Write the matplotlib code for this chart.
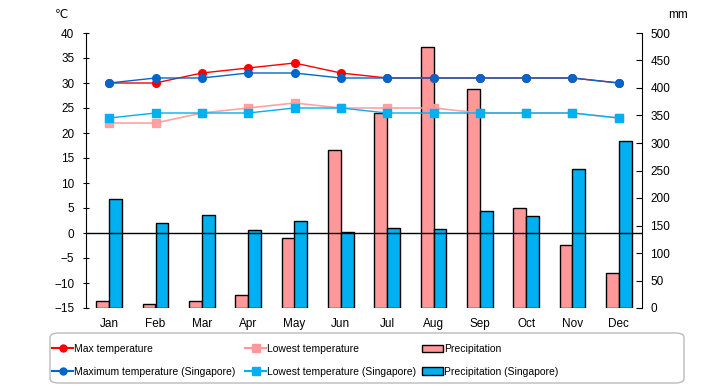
import matplotlib
matplotlib.use("Agg")
import matplotlib.pyplot as plt
from matplotlib import font_manager
from matplotlib.patches import FancyBboxPatch, Patch
from matplotlib.lines import Line2D

available = {f.name for f in font_manager.fontManager.ttflist}
narrow = None
for cand in ["Liberation Sans Narrow", "DejaVu Sans Condensed"]:
    if cand in available:
        narrow = cand
        break

plt.rcParams['font.family'] = ['Liberation Sans', 'DejaVu Sans']

months = ["Jan", "Feb", "Mar", "Apr", "May", "Jun", "Jul", "Aug", "Sep", "Oct", "Nov", "Dec"]
max_temp = [30, 30, 32, 33, 34, 32, 31, 31, 31, 31, 31, 30]
low_temp = [22, 22, 24, 25, 26, 25, 25, 25, 24, 24, 24, 23]
precip = [13, 7, 13, 23, 128, 287, 354, 474, 399, 181, 114, 63]
max_temp_sg = [30, 31, 31, 32, 32, 31, 31, 31, 31, 31, 31, 30]
low_temp_sg = [23, 24, 24, 24, 25, 25, 24, 24, 24, 24, 24, 23]
precip_sg = [198, 154, 170, 141, 158, 139, 145, 143, 176, 167, 252, 303]

c_red = "#FF0000"
c_pink = "#FF9999"
c_blue = "#0066CC"
c_lblue = "#00B0F0"

fs = 8.5

fig = plt.figure(figsize=(7.2, 3.85), dpi=100)
ax = fig.add_axes([86/720, 1-308/385, (642-86)/720, (308-33)/385])
ax2 = ax.twinx()

x = list(range(len(months)))
w = 0.28
ax2.bar([i - w/2 for i in x], precip, width=w, color=c_pink, edgecolor="black", linewidth=1)
ax2.bar([i + w/2 for i in x], precip_sg, width=w, color=c_lblue, edgecolor="black", linewidth=1)
ax2.set_ylim(0, 500)
ax2.set_yticks(range(0, 501, 50))

ax.set_zorder(ax2.get_zorder() + 1)
ax.patch.set_visible(False)
ax2.patch.set_facecolor("#FFFFCC")

ax.axhline(0, color="black", linewidth=1, zorder=1)
ax.plot(x, max_temp, color=c_red, marker="o", markersize=5.5, linewidth=1, zorder=3)
ax.plot(x, low_temp, color=c_pink, marker="s", markersize=6, linewidth=1.2, alpha=0.9, zorder=3)
ax.plot(x, max_temp_sg, color=c_blue, marker="o", markersize=5.5, linewidth=1, zorder=4)
ax.plot(x, low_temp_sg, color=c_lblue, marker="s", markersize=6, linewidth=1, zorder=4)

ax.set_xlim(-0.5, 11.5)
ax.set_ylim(-15, 40)
ax.set_yticks(range(-15, 41, 5))
ax.set_xticks(x)
ax.set_xticklabels(months)

for a in (ax, ax2):
    a.spines["top"].set_visible(False)
    a.spines["bottom"].set_visible(False)
ax.spines["right"].set_visible(False)
ax2.spines["left"].set_visible(False)
ax.tick_params(axis="x", length=0, pad=7, labelsize=fs)
ax.tick_params(axis="y", direction="inout", length=5, labelsize=fs, pad=6)
ax2.tick_params(axis="y", direction="in", length=4, labelsize=fs, pad=6)

fig.text(55/720, 1-15/385, "℃", fontsize=fs, ha="left", va="center")
fig.text(668/720, 1-15/385, "mm", fontsize=fs, ha="left", va="center")

# legend frame
frame = FancyBboxPatch((50/720, 2/385), 634/720, 50/385,
                       boxstyle="round,pad=0,rounding_size=0.012",
                       transform=fig.transFigure, facecolor="white",
                       edgecolor="#BBBBBB", linewidth=1)
fig.patches.append(frame)

if narrow:
    leg_font = {"family": [narrow, "Liberation Sans"], "size": 8.5}
    col_x = [50, 224, 392]
else:
    leg_font = {"family": ["Liberation Sans"], "size": 7.5}
    col_x = [50, 243, 420]

cols = [
    ([Line2D([], [], color=c_red, marker="o", markersize=5),
      Line2D([], [], color=c_blue, marker="o", markersize=5)],
     ["Max temperature", "Maximum temperature (Singapore)"]),
    ([Line2D([], [], color=c_pink, marker="s", markersize=6),
      Line2D([], [], color=c_lblue, marker="s", markersize=6)],
     ["Lowest temperature", "Lowest temperature (Singapore)"]),
    ([Patch(facecolor=c_pink, edgecolor="black"),
      Patch(facecolor=c_lblue, edgecolor="black")],
     ["Precipitation", "Precipitation (Singapore)"]),
]
for (handles, labels), x0 in zip(cols, col_x):
    fig.legend(handles, labels, loc="upper left",
               bbox_to_anchor=(x0/720, 1-342/385), frameon=False,
               prop=leg_font, handlelength=2.0, handletextpad=0.15,
               labelspacing=1.2, borderpad=0.2, borderaxespad=0)

fig.savefig("out.png", dpi=100)
